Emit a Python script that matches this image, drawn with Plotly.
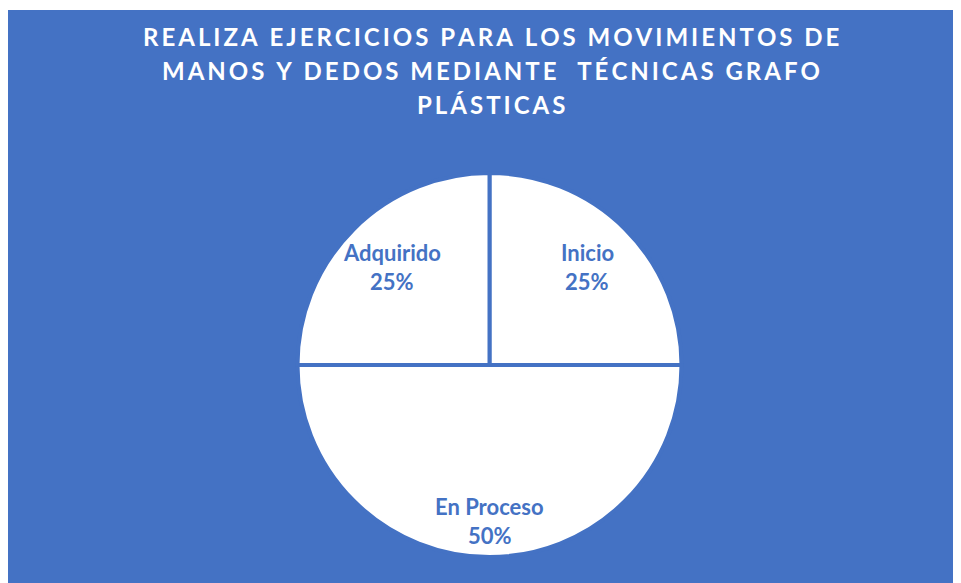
import math
import plotly.graph_objects as go

categorias = ["Inicio", "En Proceso", "Adquirido"]
valores = [25, 50, 25]
titulo = ["REALIZA EJERCICIOS PARA LOS MOVIMIENTOS DE",
          "MANOS Y DEDOS MEDIANTE  TÉCNICAS GRAFO",
          "PLÁSTICAS"]

AZUL = "#4472C4"
W, H = 961, 583
M_T = 2
AREA_W, AREA_H = W, H - M_T


# pixel de la página (el body tiene 8px de margen) -> coordenadas paper
def px(x):
    return (x - 8) / AREA_W


def py(y):
    return 1 - (y - 8 - M_T) / AREA_H


cx, cy, r = 489.5, 365, 192
frac = [0.72, 0.81, 0.72]  # distancia radial de las etiquetas

fig = go.Figure(go.Pie(
    labels=categorias,
    values=valores,
    sort=False,
    direction="clockwise",
    rotation=0,
    marker=dict(colors=["white"] * 3, line=dict(color=AZUL, width=4)),
    textinfo="none",
    domain=dict(x=[px(cx - r), px(cx + r)], y=[py(cy + r), py(cy - r)]),
    showlegend=False,
    hoverinfo="label+percent",
))

# etiquetas de datos
anots = []
total = sum(valores)
acum = 0
for cat, v, f in zip(categorias, valores, frac):
    ang = math.radians((acum + v / 2) / total * 360)
    acum += v
    x = cx + f * r * math.sin(ang)
    y = cy - f * r * math.cos(ang)
    fuente = dict(family="Lato", size=22, color=AZUL, weight="bold")
    anots.append(dict(text=cat, x=px(x), y=py(y - 14.5), xref="paper", yref="paper",
                      xanchor="center", yanchor="middle", showarrow=False, font=fuente))
    anots.append(dict(text=f"{v / total * 100:.0f}%", x=px(x), y=py(y + 14.5),
                      xref="paper", yref="paper", xanchor="center", yanchor="middle",
                      showarrow=False, font=fuente))

# título con espaciado entre letras
for i, linea in enumerate(titulo):
    espaciado = "\u2009".join(linea)
    anots.append(dict(text=espaciado, x=px(491), y=py(36.5 + 34 * i), xref="paper", yref="paper",
                      xanchor="center", yanchor="middle", showarrow=False,
                      font=dict(family="Lato", size=24, color="white", weight="bold")))

fig.update_layout(
    width=W, height=H,
    paper_bgcolor="white",
    margin=dict(l=0, r=0, t=M_T, b=0),
    annotations=anots,
    shapes=[dict(type="rect", xref="paper", yref="paper",
                 x0=0, x1=1, y0=-0.05, y1=1, fillcolor=AZUL,
                 line=dict(width=0), layer="below")],
)

fig.write_html("out.html")
